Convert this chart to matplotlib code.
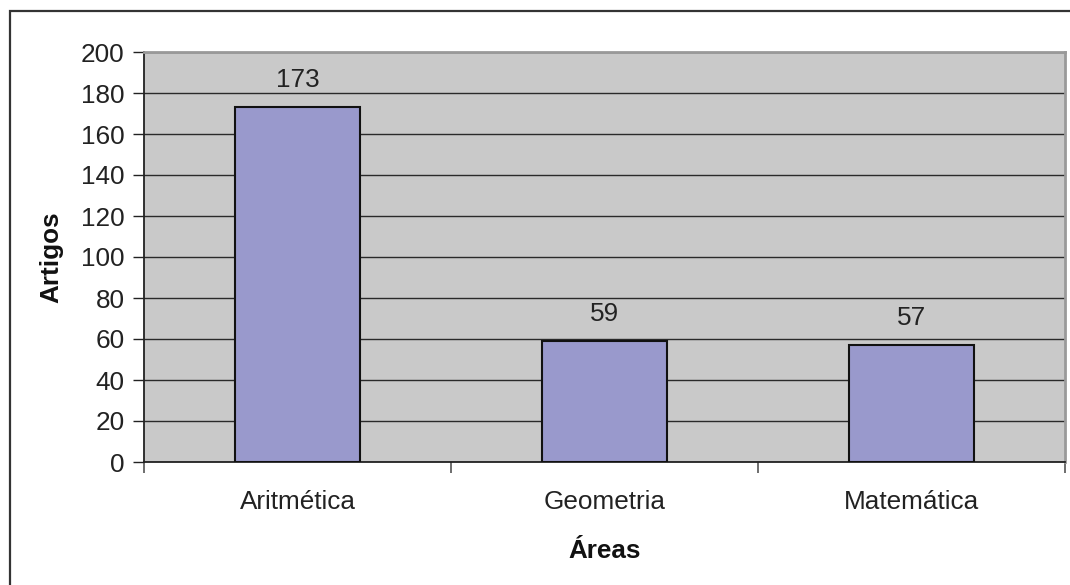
import matplotlib
matplotlib.use("Agg")
import matplotlib.pyplot as plt
from matplotlib.patches import Rectangle

# Data
areas = ["Aritmética", "Geometria", "Matemática"]
artigos = [173, 59, 57]
y_ticks = [0, 20, 40, 60, 80, 100, 120, 140, 160, 180, 200]

plt.rcParams["font.family"] = ["Liberation Sans", "DejaVu Sans"]
FS = 18.8

W, H = 1070, 585
fig = plt.figure(figsize=(W / 100, H / 100), dpi=100)
fig.patch.set_facecolor("white")

# Outer chart frame (runs past the right and bottom edges)
fig.patches.append(Rectangle((10 / W, -0.05), 1.2, 1 - 11 / H + 0.05,
                             transform=fig.transFigure, fill=False,
                             edgecolor="#333333", linewidth=1.6))

ax = fig.add_axes([144 / W, 1 - 462 / H, (1065 - 144) / W, (462 - 52) / H])
ax.set_facecolor("#c9c9c9")

x = list(range(len(areas)))
ax.bar(x, artigos, width=0.41, color="#9999cc", edgecolor="#111111",
       linewidth=1.5, zorder=3)

for xi, v in zip(x, artigos):
    ax.annotate(str(v), (xi, v), xytext=(0, 19.5), textcoords="offset points",
                ha="center", va="center", fontsize=FS, color="#222222")

ax.set_xlim(-0.5, len(areas) - 0.5)
ax.set_ylim(0, 200)
ax.set_yticks(y_ticks)
ax.yaxis.grid(True, color="#2a2a2a", linewidth=1.0, zorder=1)
ax.set_axisbelow(True)

ax.set_xticks(x)
ax.set_xticklabels(areas, fontsize=FS, color="#222222")
ax.set_xticks([i - 0.5 for i in range(len(areas) + 1)], minor=True)
ax.tick_params(axis="x", which="major", length=0, pad=20.5)
ax.tick_params(axis="x", which="minor", length=8, width=1.2, color="#555555",
               direction="out")
ax.tick_params(axis="y", length=8, width=1.0, color="#222222", pad=6,
               labelsize=FS, labelcolor="#222222")

for side in ("left", "bottom"):
    ax.spines[side].set_color("#222222")
    ax.spines[side].set_linewidth(1.3)
for side in ("top", "right"):
    ax.spines[side].set_color("#999999")
    ax.spines[side].set_linewidth(2.0)

ax.set_ylabel("Artigos", fontsize=FS, fontweight="bold", color="#111111",
              labelpad=12.5)
ax.set_xlabel("Áreas", fontsize=FS, fontweight="bold", color="#111111",
              labelpad=17.5)

fig.savefig("out.png", dpi=100)
